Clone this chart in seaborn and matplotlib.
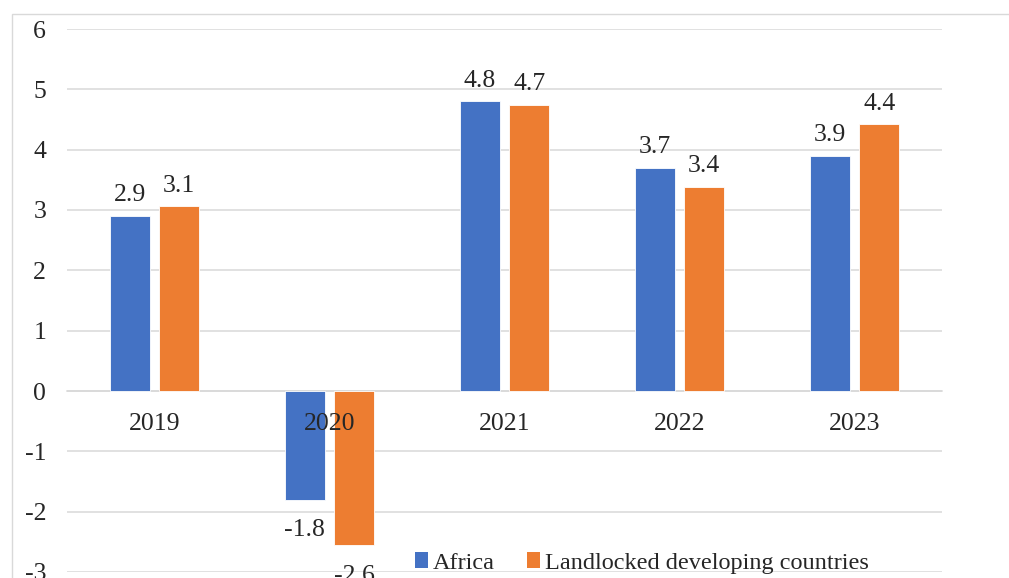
import matplotlib
matplotlib.use("Agg")
import matplotlib.pyplot as plt
import seaborn as sns
import pandas as pd
from matplotlib.patches import Rectangle, Patch

years = ["2019", "2020", "2021", "2022", "2023"]
series_names = ["Africa", "Landlocked developing countries"]
africa = [2.9, -1.8, 4.8, 3.7, 3.9]
lldc = [3.06, -2.56, 4.74, 3.38, 4.42]
colors = ["#4472C4", "#ED7D31"]
yticks = [-3, -2, -1, 0, 1, 2, 3, 4, 5, 6]

df = pd.DataFrame({
    "Year": years * 2,
    "Series": [series_names[0]] * len(years) + [series_names[1]] * len(years),
    "Value": africa + lldc,
})

sns.set_style("white")
plt.rcParams["font.family"] = ["Liberation Serif", "DejaVu Serif"]
FS = 18.5

fig = plt.figure(figsize=(10.09, 5.78), dpi=100)
ax = fig.add_axes([67 / 1009, 1 - 572 / 578, (942 - 67) / 1009, (572 - 29) / 578])

sns.barplot(data=df, x="Year", y="Value", hue="Series", order=years,
            hue_order=series_names, palette=colors, width=0.566, gap=0.2,
            edgecolor="white", linewidth=0.6, saturation=1, ax=ax, legend=False)

ax.set_xlim(-0.5, 4.5)
ax.set_ylim(-3, 6)
ax.set_yticks(yticks)
ax.set_yticklabels([str(t) for t in yticks], fontsize=FS)
ax.set_xlabel("")
ax.set_ylabel("")
ax.yaxis.grid(True, color="#D9D9D9", linewidth=1.1)
ax.set_axisbelow(True)
ax.xaxis.set_zorder(3)
for s in ["left", "right", "top"]:
    ax.spines[s].set_visible(False)
ax.spines["bottom"].set_position(("data", 0))
ax.spines["bottom"].set_color("#D9D9D9")
ax.spines["bottom"].set_linewidth(1.1)
ax.spines["bottom"].set_zorder(0.6)
ax.tick_params(axis="y", length=0, pad=15, labelsize=FS)
ax.tick_params(axis="x", length=0, pad=16, labelsize=FS)

# data labels
for cont in ax.containers:
    for p in cont:
        h = p.get_height()
        xc = p.get_x() + p.get_width() / 2
        if h >= 0:
            ax.annotate(f"{h:.1f}", (xc, h), xytext=(0, 7), textcoords="offset points",
                        ha="center", va="bottom", fontsize=FS, annotation_clip=False)
        else:
            ax.annotate(f"{h:.1f}", (xc, h), xytext=(0, -14), textcoords="offset points",
                        ha="center", va="top", fontsize=FS, annotation_clip=False)

# outer chart border (cropped)
fig.patches.append(Rectangle((12 / 1009, -0.1), 1.2, 1 - 14 / 578 + 0.1,
                             transform=fig.transFigure, fill=False,
                             edgecolor="#D9D9D9", linewidth=1.0, zorder=0))

handles = [Patch(facecolor=c, edgecolor="none") for c in colors]
leg = fig.legend(handles, series_names, loc="center", bbox_to_anchor=(0.636, 0.026),
                 ncol=2, frameon=False, fontsize=17.5, handlelength=0.55, handleheight=0.6,
                 handletextpad=0.2, columnspacing=1.3, borderpad=0.1)

fig.savefig("out.png", dpi=100)
